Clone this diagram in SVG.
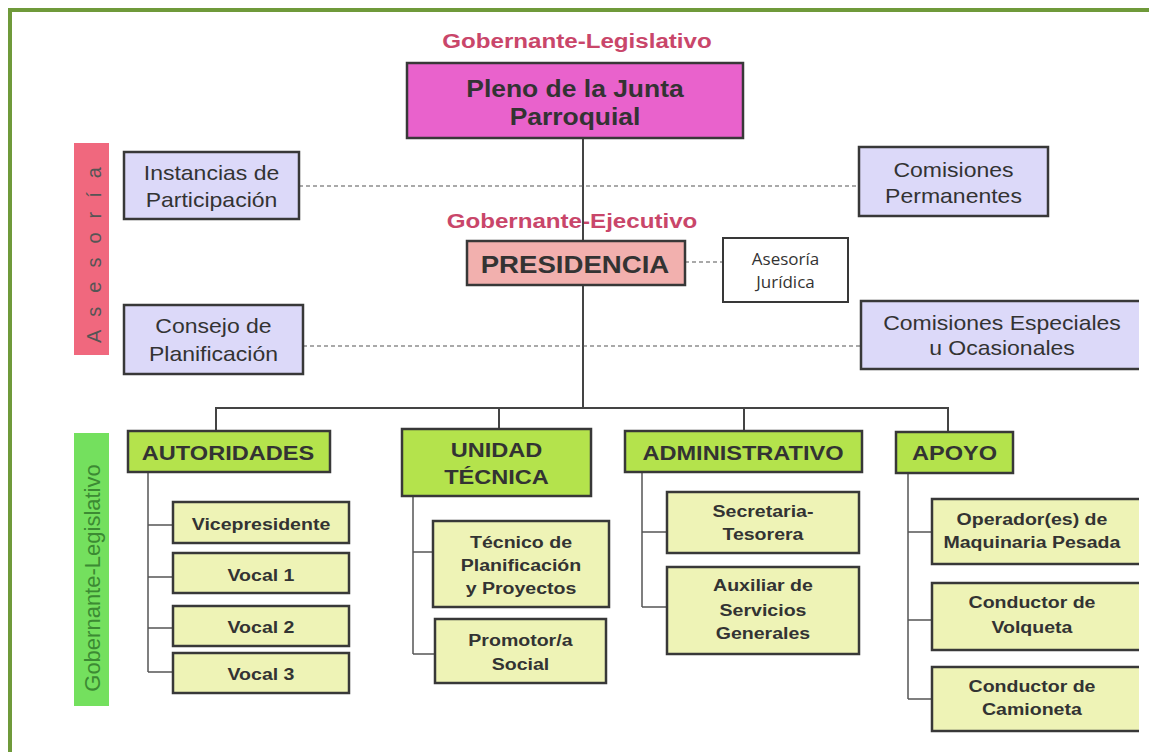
<svg xmlns="http://www.w3.org/2000/svg" width="1149" height="752" viewBox="0 0 1149 752">
<style>
  text { font-family: "Liberation Sans", Arial, sans-serif; fill: #333; text-anchor: middle; }
  .s { transform-box: fill-box; transform-origin: center; transform: scaleX(1.15); }
  .b { font-weight: bold; }
  .box { stroke: #383838; stroke-width: 2.5; }
  .pleno { fill: #e962cc; }
  .pres { fill: #f2b0ae; }
  .lav { fill: #dcd9f9; font-size: 20px; }
  .lvl2 { fill: #b4e34c; }
  .sub { fill: #eef3b6; }
  .white { fill: #ffffff; stroke: #383838; stroke-width: 2; }
  .pink { fill: #c9466a; font-weight: bold; font-size: 21px; }
  .t20 { font-size: 20px; }
  .t2 { font-size: 20.5px; font-weight: bold; }
  .t3 { font-size: 17px; font-weight: bold; }
  .line { stroke: #444; stroke-width: 2; fill: none; }
  .thin { stroke: #555; stroke-width: 1.5; fill: none; }
  .dash { stroke: #555; stroke-width: 1.2; stroke-dasharray: 4 3; fill: none; }
</style>
<defs>
  <clipPath id="cut"><rect x="0" y="0" width="1139" height="752"/></clipPath>
</defs>
<rect x="0" y="0" width="1149" height="752" fill="#ffffff"/>
<rect id="frame" x="10" y="10" width="1200" height="800" fill="none" stroke="#6f9a3a" stroke-width="4"/>

<g id="side-asesoria">
  <rect x="74" y="143" width="35" height="212" fill="#f0687e"/>
  <text transform="translate(101,255) rotate(-90)" font-size="20" textLength="176" lengthAdjust="spacing" style="fill:#555">A s e s o r í a</text>
</g>
<g id="side-gobernante">
  <rect x="74" y="433" width="35" height="273" fill="#74e05e"/>
  <text transform="translate(100,578) rotate(-90)" font-size="22" style="fill:#3c8a33">Gobernante-Legislativo</text>
</g>

<text id="label-legislativo" class="pink s" x="577" y="48">Gobernante-Legislativo</text>
<text id="label-ejecutivo" class="pink s" x="572" y="228">Gobernante-Ejecutivo</text>

<g id="connectors">
  <line class="line" x1="583" y1="138" x2="583" y2="241"/>
  <line class="line" x1="583" y1="285" x2="583" y2="408"/>
  <polyline class="line" points="216,431 216,408 948,408 948,432"/>
  <line class="line" x1="499" y1="408" x2="499" y2="429"/>
  <line class="line" x1="744" y1="408" x2="744" y2="431"/>
  <line class="dash" x1="299" y1="186" x2="859" y2="186"/>
  <line class="dash" x1="303" y1="346" x2="861" y2="346"/>
  <line class="dash" x1="685" y1="262" x2="723" y2="262"/>
  <path class="thin" d="M148 472 V672 M148 525 H173 M148 577 H173 M148 628 H173 M148 672 H173"/>
  <path class="thin" d="M413 496 V654 M413 552 H433 M413 654 H435"/>
  <path class="thin" d="M642 472 V607 M642 532 H667 M642 607 H667"/>
  <path class="thin" d="M908 473 V699 M908 532 H932 M908 620 H932 M908 699 H932"/>
</g>

<g id="pleno">
  <rect class="box pleno" x="407" y="63" width="336" height="75"/>
  <text class="b s" font-size="23" x="575" y="97">Pleno de la Junta</text>
  <text class="b s" font-size="23" x="575" y="125">Parroquial</text>
</g>
<g id="instancias">
  <rect class="box lav" x="124" y="152" width="175" height="67"/>
  <text class="t20 s" x="211.5" y="180">Instancias de</text>
  <text class="t20 s" x="211.5" y="207">Participación</text>
</g>
<g id="comisiones-permanentes">
  <rect class="box lav" x="859" y="147" width="189" height="69"/>
  <text class="t20 s" x="953.5" y="177">Comisiones</text>
  <text class="t20 s" x="953.5" y="203">Permanentes</text>
</g>
<g id="presidencia">
  <rect class="box pres" x="467" y="241" width="218" height="44"/>
  <text class="b s" font-size="24" x="575" y="273">PRESIDENCIA</text>
</g>
<g id="asesoria-juridica">
  <rect class="white" x="723" y="238" width="125" height="64"/>
  <text x="785.5" y="265" font-size="17" style="font-family:'Open Sans','Liberation Sans',sans-serif">Asesoría</text>
  <text x="785.5" y="288" font-size="17" style="font-family:'Open Sans','Liberation Sans',sans-serif">Jurídica</text>
</g>
<g id="consejo">
  <rect class="box lav" x="124" y="305" width="179" height="69"/>
  <text class="t20 s" x="213.5" y="333">Consejo de</text>
  <text class="t20 s" x="213.5" y="361">Planificación</text>
</g>
<g id="comisiones-especiales" clip-path="url(#cut)">
  <rect class="box lav" x="861" y="301" width="290" height="68"/>
  <text class="t20 s" x="1002" y="330">Comisiones Especiales</text>
  <text class="t20 s" x="1002" y="355">u Ocasionales</text>
</g>

<g id="autoridades">
  <rect class="box lvl2" x="128" y="431" width="202" height="41"/>
  <text class="t2 s" x="228" y="460">AUTORIDADES</text>
</g>
<g id="unidad-tecnica">
  <rect class="box lvl2" x="402" y="429" width="189" height="67"/>
  <text class="t2 s" x="496.5" y="457">UNIDAD</text>
  <text class="t2 s" x="496.5" y="484">TÉCNICA</text>
</g>
<g id="administrativo">
  <rect class="box lvl2" x="625" y="431" width="237" height="41"/>
  <text class="t2 s" x="743" y="460">ADMINISTRATIVO</text>
</g>
<g id="apoyo">
  <rect class="box lvl2" x="896" y="432" width="117" height="41"/>
  <text class="t2 s" x="954.5" y="460">APOYO</text>
</g>

<g id="vicepresidente">
  <rect class="box sub" x="173" y="502" width="176" height="41"/>
  <text class="t3 s" x="261" y="530">Vicepresidente</text>
</g>
<g id="vocal1">
  <rect class="box sub" x="173" y="553" width="176" height="40"/>
  <text class="t3 s" x="261" y="581">Vocal 1</text>
</g>
<g id="vocal2">
  <rect class="box sub" x="173" y="606" width="176" height="40"/>
  <text class="t3 s" x="261" y="633">Vocal 2</text>
</g>
<g id="vocal3">
  <rect class="box sub" x="173" y="653" width="176" height="40"/>
  <text class="t3 s" x="261" y="680">Vocal 3</text>
</g>

<g id="tecnico">
  <rect class="box sub" x="433" y="521" width="176" height="86"/>
  <text class="t3 s" x="521" y="548">Técnico de</text>
  <text class="t3 s" x="521" y="571">Planificación</text>
  <text class="t3 s" x="521" y="594">y Proyectos</text>
</g>
<g id="promotor">
  <rect class="box sub" x="435" y="619" width="171" height="64"/>
  <text class="t3 s" x="520.5" y="646">Promotor/a</text>
  <text class="t3 s" x="520.5" y="670">Social</text>
</g>

<g id="secretaria">
  <rect class="box sub" x="667" y="492" width="192" height="61"/>
  <text class="t3 s" x="763" y="517">Secretaria-</text>
  <text class="t3 s" x="763" y="540">Tesorera</text>
</g>
<g id="auxiliar">
  <rect class="box sub" x="667" y="567" width="192" height="87"/>
  <text class="t3 s" x="763" y="591">Auxiliar de</text>
  <text class="t3 s" x="763" y="616">Servicios</text>
  <text class="t3 s" x="763" y="639">Generales</text>
</g>

<g id="operador" clip-path="url(#cut)">
  <rect class="box sub" x="932" y="499" width="219" height="65"/>
  <text class="t3 s" x="1032" y="525">Operador(es) de</text>
  <text class="t3 s" x="1032" y="548">Maquinaria Pesada</text>
</g>
<g id="volqueta" clip-path="url(#cut)">
  <rect class="box sub" x="932" y="583" width="219" height="67"/>
  <text class="t3 s" x="1032" y="608">Conductor de</text>
  <text class="t3 s" x="1032" y="633">Volqueta</text>
</g>
<g id="camioneta" clip-path="url(#cut)">
  <rect class="box sub" x="932" y="667" width="219" height="64"/>
  <text class="t3 s" x="1032" y="692">Conductor de</text>
  <text class="t3 s" x="1032" y="715">Camioneta</text>
</g>
</svg>
